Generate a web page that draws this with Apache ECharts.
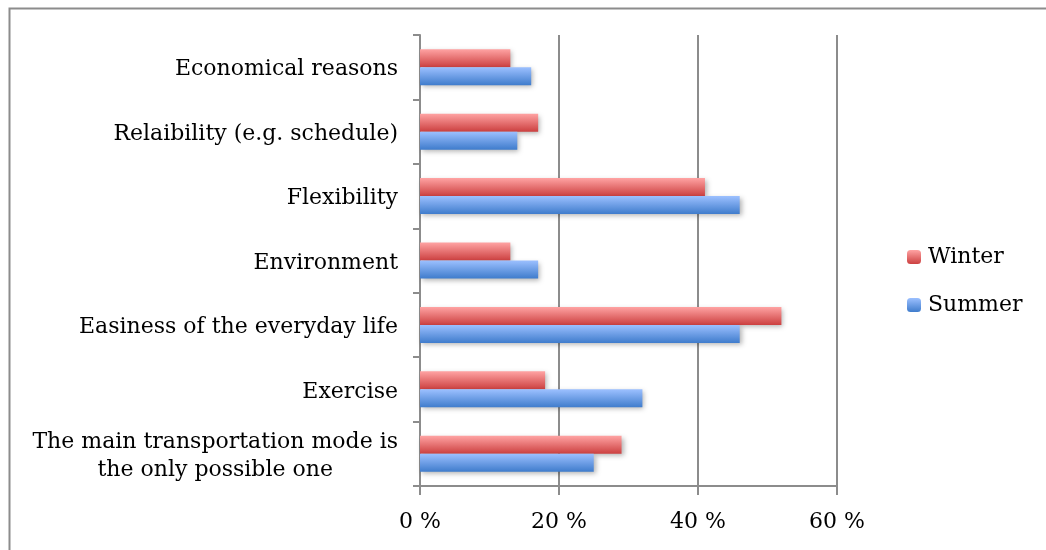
<!DOCTYPE html>
<html>
<head>
<meta charset="utf-8">
<script src="https://cdn.jsdelivr.net/npm/echarts@6/dist/echarts.min.js"></script>
<style>
	html, body { margin: 0; padding: 0; background: #fff; }
	#chart { width: 1046px; height: 550px; }
</style>
</head>
<body>
<div id="chart"></div>
<script>
// Chart data (percent of respondents)
const categories = [
	'Economical reasons',
	'Relaibility (e.g. schedule)',
	'Flexibility',
	'Environment',
	'Easiness of the everyday life',
	'Exercise',
	'The main transportation mode is\nthe only possible one',
]
const winterValues = [13, 17, 41, 13, 52, 18, 29]
const summerValues = [16, 14, 46, 17, 46, 32, 25]
const tickValues = [0, 20, 40, 60]

const FONT = 'DejaVu Serif'

// Glossy gradient like the office chart bars
gradient = (top, bottom) => {
	return new echarts.graphic.LinearGradient(0, 0, 0, 1, [
		{ offset: 0, color: top },
		{ offset: 1, color: bottom },
	])
}

// Multi line labels are centered line by line, single ones stay right aligned
labelFormatter = (value) => {
	if (value.indexOf('\n') < 0) return value
	return value
		.split('\n')
		.map((line) => '{c|' + line + '}')
		.join('\n')
}

var chart = echarts.init(document.getElementById('chart'), null, { renderer: 'canvas' })

const option = {
	backgroundColor: '#fff',
	animation: false,
	graphic: [
		{
			type: 'rect',
			left: 7,
			top: 6,
			shape: { width: 1100, height: 600 },
			style: { fill: 'none', stroke: '#8c8c8c', lineWidth: 2 },
			silent: true,
		},
	],
	grid: {
		left: 420,
		right: 209,
		top: 35,
		bottom: 64,
	},
	legend: {
		orient: 'vertical',
		left: 902,
		top: 241,
		itemWidth: 14,
		itemHeight: 14,
		itemGap: 26,
		textStyle: { fontFamily: FONT, fontSize: 22, color: '#000', padding: [0, 0, 0, 2] },
		data: ['Winter', 'Summer'],
	},
	xAxis: {
		type: 'value',
		min: tickValues[0],
		max: tickValues[tickValues.length - 1],
		interval: tickValues[1] - tickValues[0],
		axisLine: { show: true, lineStyle: { color: '#8c8c8c', width: 2 } },
		axisTick: { show: true, length: 9, lineStyle: { color: '#8c8c8c', width: 2 } },
		splitLine: { show: true, lineStyle: { color: '#8c8c8c', width: 2 } },
		axisLabel: {
			formatter: '{value} %',
			margin: 25,
			fontFamily: FONT,
			fontSize: 22,
			color: '#000',
		},
	},
	yAxis: {
		type: 'category',
		inverse: true,
		data: categories,
		axisLine: { show: true, lineStyle: { color: '#8c8c8c', width: 2 } },
		axisTick: { show: true, length: 7, lineStyle: { color: '#8c8c8c', width: 2 } },
		axisLabel: {
			margin: 22,
			fontFamily: FONT,
			fontSize: 22,
			lineHeight: 28,
			color: '#000',
			align: 'right',
			padding: [5, 0, 0, 0],
			formatter: labelFormatter,
			rich: {
				c: {
					fontFamily: FONT,
					fontSize: 22,
					lineHeight: 28,
					color: '#000',
					align: 'center',
				},
			},
		},
	},
	series: [
		{
			name: 'Winter',
			type: 'bar',
			data: winterValues,
			barWidth: 18,
			barGap: '0%',
			itemStyle: {
				color: gradient('#ffa3a3', '#cc4040'),
				shadowColor: 'rgba(0,0,0,0.3)',
				shadowBlur: 5,
				shadowOffsetX: 2,
				shadowOffsetY: 2,
			},
		},
		{
			name: 'Summer',
			type: 'bar',
			data: summerValues,
			barWidth: 18,
			barGap: '0%',
			itemStyle: {
				color: gradient('#9cc0ff', '#3f7ccc'),
				shadowColor: 'rgba(0,0,0,0.3)',
				shadowBlur: 5,
				shadowOffsetX: 2,
				shadowOffsetY: 2,
			},
		},
	],
}

// Set options to chart
chart.setOption(option)
</script>
</body>
</html>
